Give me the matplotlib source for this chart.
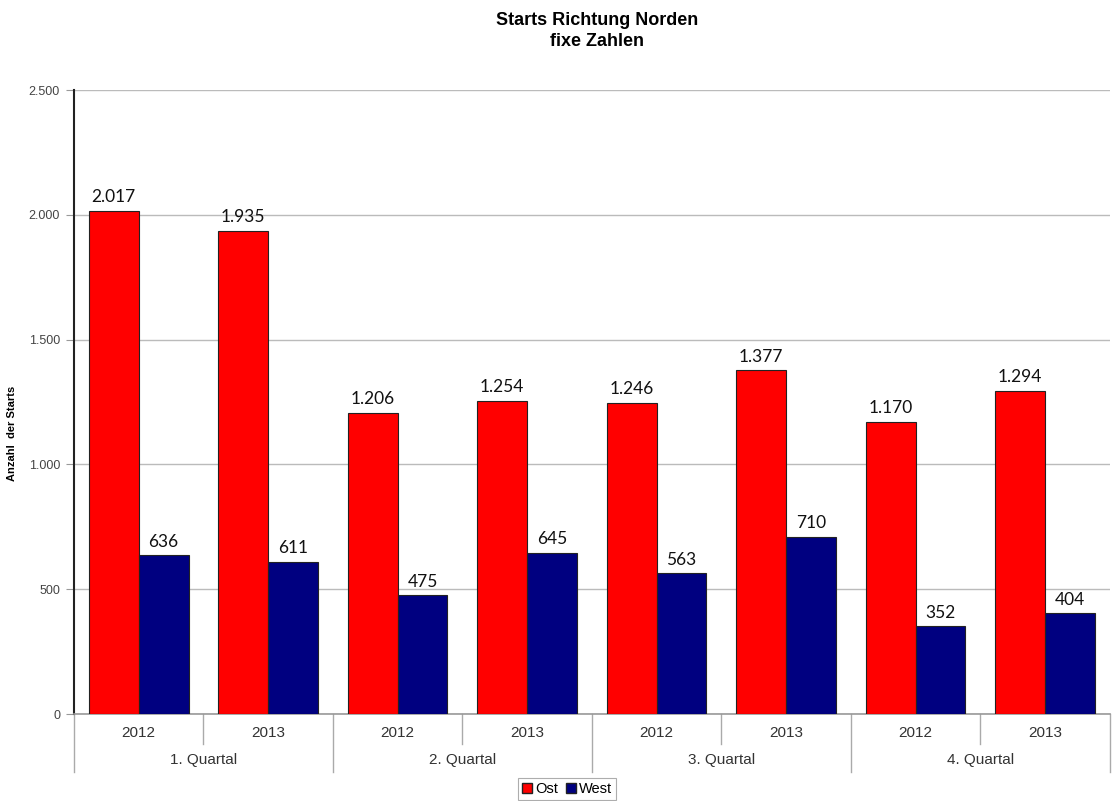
import matplotlib
matplotlib.use("Agg")
import matplotlib.pyplot as plt
from matplotlib.patches import Patch
import numpy as np

# Data
quarters = ["1. Quartal", "2. Quartal", "3. Quartal", "4. Quartal"]
years = ["2012", "2013", "2012", "2013", "2012", "2013", "2012", "2013"]
ost = [2017, 1935, 1206, 1254, 1246, 1377, 1170, 1294]
west = [636, 611, 475, 645, 563, 710, 352, 404]
yticks = [0, 500, 1000, 1500, 2000, 2500]
ytick_labels = ["0", "500", "1.000", "1.500", "2.000", "2.500"]


def fmt(v):
    return f"{v:,}".replace(",", ".")


fig = plt.figure(figsize=(11.12, 8.01), dpi=100)
ax = fig.add_axes([0.0665, 0.1086, 0.9315, 0.779])

x = np.arange(len(years))
w = 0.385
b1 = ax.bar(x - w / 2, ost, w, color="#ff0000", edgecolor="#222222", linewidth=0.8, zorder=3, label="Ost")
b2 = ax.bar(x + w / 2, west, w, color="#000080", edgecolor="#222222", linewidth=0.8, zorder=3, label="West")

for bars, vals in ((b1, ost), (b2, west)):
    for r, v in zip(bars, vals):
        ax.annotate(fmt(v), (r.get_x() + r.get_width() / 2, v), xytext=(0, 4),
                    textcoords="offset points", ha="center", va="bottom",
                    fontsize=12.5, family="Lato", color="#111111")

ax.set_xlim(-0.5, len(years) - 0.5)
ax.set_ylim(0, 2500)
ax.set_yticks(yticks)
ax.set_yticklabels(ytick_labels, fontsize=9, color="#444444", family="Liberation Sans")
ax.tick_params(axis="y", length=6, color="#999999", pad=4)
ax.yaxis.grid(True, color="#bbbbbb", linewidth=1, zorder=0)
ax.set_xticks([])
for s in ("top", "right"):
    ax.spines[s].set_visible(False)
ax.spines["left"].set_color("#222222")
ax.spines["left"].set_linewidth(1.5)
ax.spines["bottom"].set_color("#999999")
ax.spines["bottom"].set_linewidth(1.2)

ax.set_ylabel("Anzahl  der Starts", fontsize=8, fontweight="bold", family="Liberation Sans")
ax.yaxis.set_label_coords(-0.055, 0.45)

# Two-level category axis
trans = ax.get_xaxis_transform()
for i, yr in enumerate(years):
    ax.text(i, -0.030, yr, transform=trans, ha="center", va="center",
            fontsize=11, color="#333333", family="Liberation Sans")
for q, name in enumerate(quarters):
    ax.text(2 * q + 0.5, -0.074, name, transform=trans, ha="center", va="center",
            fontsize=11, color="#333333", family="Liberation Sans")
for i in range(len(years) + 1):
    xb = i - 0.5
    depth = -0.093 if i % 2 == 0 else -0.048
    ax.plot([xb, xb], [0, depth], transform=trans, color="#aaaaaa", linewidth=1, clip_on=False)

fig.text(0.537, 0.985, "Starts Richtung Norden\nfixe Zahlen", ha="center", va="top",
         fontsize=13, fontweight="bold", family="Liberation Sans", linespacing=1.3)

handles = [Patch(facecolor="#ff0000", edgecolor="#222222", label="Ost"),
           Patch(facecolor="#000080", edgecolor="#222222", label="West")]
leg = fig.legend(handles=handles, loc="center", bbox_to_anchor=(567 / 1112, 1 - 789 / 801),
                 ncol=2, frameon=True, fancybox=False, handlelength=0.7,
                 handleheight=0.7, handletextpad=0.2, columnspacing=0.5, borderpad=0.3,
                 prop={"family": "Liberation Sans", "size": 10.5})
leg.get_frame().set_edgecolor("#999999")
leg.get_frame().set_linewidth(0.8)

fig.savefig("out.png", dpi=100, facecolor="white")
